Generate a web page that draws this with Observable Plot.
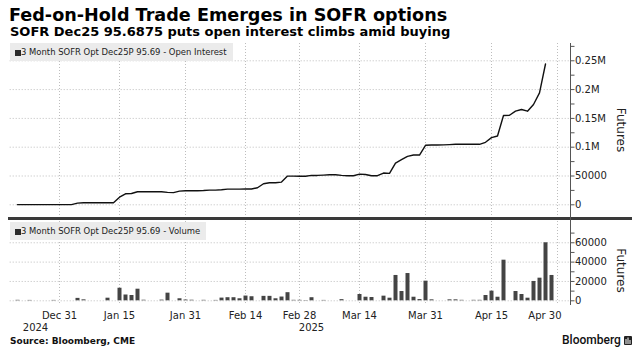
<!DOCTYPE html>
<html>
<head>
<meta charset="utf-8">
<script src="https://cdn.jsdelivr.net/npm/d3@7"></script>
<script src="https://cdn.jsdelivr.net/npm/@observablehq/plot@0.6"></script>
<style>
  body { margin: 0; background: #fff; }
  #wrap { position: relative; width: 644px; height: 353px; overflow: hidden; font-family: "DejaVu Sans", sans-serif; color: #000; background: #fff; }
  .abs { position: absolute; white-space: nowrap; }
  #title { left: 9px; top: 7px; font-weight: bold; font-size: 17.6px; line-height: 1; }
  #subtitle { left: 10px; top: 25px; font-weight: bold; font-size: 13px; line-height: 1; }
  .legend { background: #ebebeb; height: 18px; line-height: 18px; font-family: "DejaVu Sans Condensed", "DejaVu Sans", sans-serif; font-stretch: condensed; font-size: 9.4px; color: #222; padding-left: 11px; padding-right: 6px; }
  .legend::before { content: ""; position: absolute; left: 5px; top: 7px; width: 6px; height: 6px; background: #2a2a2a; }
  #source { left: 10px; top: 337px; font-weight: bold; font-size: 9px; line-height: 1; color: #111; }
  #logo { left: 562px; top: 334px; font-family: Roboto, "Liberation Sans", sans-serif; font-weight: 500; font-size: 12px; line-height: 1; color: #111; }
</style>
</head>
<body>
<div id="wrap">
  <div id="title" class="abs">Fed-on-Hold Trade Emerges in SOFR options</div>
  <div id="subtitle" class="abs">SOFR Dec25 95.6875 puts open interest climbs amid buying</div>
  <div id="top" class="abs" style="left:0;top:43px"></div>
  <div id="bot" class="abs" style="left:0;top:221px"></div>
  <div class="abs" style="left:8px;top:217px;width:624px;height:2.5px;background:#3a3a3a"></div>
  <div class="abs" style="left:569.5px;top:43px;width:1px;height:262px;background:#555"></div>
  <div class="abs legend" style="left:10px;top:43px">3 Month SOFR Opt Dec25P 95.69 - Open Interest</div>
  <div class="abs legend" style="left:10px;top:222px">3 Month SOFR Opt Dec25P 95.69 - Volume</div>
  <div id="source" class="abs">Source: Bloomberg, CME</div>
  <div id="logo" class="abs">Bloomberg <svg width="8" height="9" style="vertical-align:-1px"><rect x="0" y="0" width="8" height="9" rx="1" fill="#222"/><rect x="1.5" y="3" width="1" height="5" fill="#fff"/><rect x="3.5" y="1.5" width="1" height="6.5" fill="#fff"/><rect x="5.5" y="4" width="1" height="4" fill="#fff"/></svg></div>
</div>
<script>
// Trading-day categories (x axis slots)
const dates = [
  "2024-12-19","2024-12-20","2024-12-23","2024-12-24","2024-12-26","2024-12-27","2024-12-30","2024-12-31",
  "2025-01-02","2025-01-03","2025-01-06","2025-01-07","2025-01-08","2025-01-09","2025-01-10",
  "2025-01-13","2025-01-14","2025-01-15","2025-01-16","2025-01-17",
  "2025-01-21","2025-01-22","2025-01-23","2025-01-24",
  "2025-01-27","2025-01-28","2025-01-29","2025-01-30","2025-01-31",
  "2025-02-03","2025-02-04","2025-02-05","2025-02-06","2025-02-07",
  "2025-02-10","2025-02-11","2025-02-12","2025-02-13","2025-02-14",
  "2025-02-18","2025-02-19","2025-02-20","2025-02-21",
  "2025-02-24","2025-02-25","2025-02-26","2025-02-27","2025-02-28",
  "2025-03-03","2025-03-04","2025-03-05","2025-03-06","2025-03-07",
  "2025-03-10","2025-03-11","2025-03-12","2025-03-13","2025-03-14",
  "2025-03-17","2025-03-18","2025-03-19","2025-03-20","2025-03-21",
  "2025-03-24","2025-03-25","2025-03-26","2025-03-27","2025-03-28",
  "2025-03-31","2025-04-01","2025-04-02","2025-04-03","2025-04-04",
  "2025-04-07","2025-04-08","2025-04-09","2025-04-10","2025-04-11",
  "2025-04-14","2025-04-15","2025-04-16","2025-04-17","2025-04-18",
  "2025-04-21","2025-04-22","2025-04-23","2025-04-24","2025-04-25",
  "2025-04-28","2025-04-29","2025-04-30","2025-05-01"
];

// Open interest (contracts), one per trading day starting 2024-12-19
const openInterest = [
  300,300,300,300,300,300,300,300,300,300,
  3000,3500,3500,3500,3500,3500,3500,13200,19100,19600,
  22600,22600,22600,22600,22600,21500,21200,23800,24400,24400,
  24500,24800,25500,25500,26100,27200,27200,27200,27500,27500,
  29600,36600,38300,38300,39400,49800,49800,49600,49600,51000,
  51000,51500,52200,52200,51000,50500,50500,53300,52500,50500,
  50500,55100,54500,72500,78400,84100,86400,86400,103300,103800,
  103800,104000,104500,105000,105000,105000,105000,105000,108500,116700,
  119500,155000,155500,162500,165400,162500,174200,194400,244400
];

// Daily volume (contracts), one per trading day starting 2024-12-19
const volume = [
  500,0,400,0,0,0,400,0,0,0,
  2500,1000,0,0,0,2700,0,13000,6000,5500,
  12000,600,0,0,700,7900,0,2100,800,600,
  0,500,0,400,2800,3200,3200,2100,4900,4200,
  0,4600,4600,2100,3900,8400,500,500,300,3200,
  0,400,0,0,1200,0,0,6500,3700,3400,
  0,4800,2700,26200,9600,28200,3700,1300,20300,1000,
  0,0,1000,1000,500,0,500,500,5500,10000,
  3700,42000,0,9600,6500,2700,20000,23400,60000,26200
];

// Axis ticks and labels
const xTickDates = ["2024-12-31","2025-01-15","2025-01-31","2025-02-14","2025-02-28","2025-03-14","2025-03-31","2025-04-15","2025-04-30"];
const xTickLabels = ["Dec 31","Jan 15","Jan 31","Feb 14","Feb 28","Mar 14","Mar 31","Apr 15","Apr 30"];
const yearTickDates = ["2024-12-24","2025-03-04"];
const yearTickLabels = ["2024","2025"];
const oiTicks = [0, 50000, 100000, 150000, 200000, 250000];
const oiTickLabels = ["0","50000","0.1M","0.15M","0.2M","0.25M"];
const oiMinorTicks = [25000, 75000, 125000, 175000, 225000, 275000];
const volTicks = [0, 20000, 40000, 60000];
const volTickLabels = ["0","20000","40000","60000"];
const volMinorTicks = [10000, 30000, 50000, 70000];
const axisTitle = "Futures";

const oiRows = openInterest.map((v, i) => ({date: dates[i], oi: v}));
const volRows = volume.map((v, i) => ({date: dates[i], vol: v}));
const xLabel = new Map(xTickDates.map((d, i) => [d, xTickLabels[i]]));
const yearLabel = new Map(yearTickDates.map((d, i) => [d, yearTickLabels[i]]));
const oiLabel = new Map(oiTicks.map((d, i) => [d, oiTickLabels[i]]));
const volLabel = new Map(volTicks.map((d, i) => [d, volTickLabels[i]]));

const gridStyle = {stroke: "#bdbdbd", strokeDasharray: "1,2", strokeWidth: 1};
const style = {fontFamily: "DejaVu Sans, sans-serif", fontSize: "10px", color: "#222", background: "transparent", overflow: "visible"};
const xScale = {type: "point", domain: dates, padding: 0.5, axis: null};

const topChart = Plot.plot({
  width: 644, height: 173,
  marginLeft: 9.7, marginRight: 74, marginTop: 0, marginBottom: 0,
  style,
  x: xScale,
  y: {domain: [-20300, 280000], axis: null},
  marks: [
    Plot.ruleY(oiTicks, gridStyle),
    Plot.ruleX(xTickDates, gridStyle),
    Plot.axisY({anchor: "right", label: null, ticks: oiMinorTicks, tickFormat: () => "", tickSize: 3.5, stroke: "#555"}),
    Plot.axisY({anchor: "right", label: null, ticks: oiTicks, tickFormat: d => oiLabel.get(d), tickSize: 3.5, tickPadding: 1, stroke: "#555", fontSize: 10}),
    Plot.lineY(oiRows, {x: "date", y: "oi", stroke: "#111", strokeWidth: 1.4}),
    Plot.text([axisTitle], {frameAnchor: "right", textAnchor: "middle", dx: 50, rotate: 90, fontSize: 12, fill: "#222"})
  ]
});
document.getElementById("top").appendChild(topChart);

const lastTick = xTickDates[xTickDates.length - 1];
const botChart = Plot.plot({
  width: 644, height: 124,
  marginLeft: 9.7, marginRight: 74, marginTop: 0, marginBottom: 40,
  style,
  x: xScale,
  y: {domain: [-4860, 82000], axis: null},
  marks: [
    Plot.ruleY(volTicks, gridStyle),
    Plot.ruleX(xTickDates, gridStyle),
    Plot.ruleX(volRows, {x: "date", y1: 0, y2: "vol", stroke: "#444", strokeWidth: 4}),
    Plot.axisY({anchor: "right", label: null, ticks: volMinorTicks, tickFormat: () => "", tickSize: 3.5, stroke: "#555"}),
    Plot.axisY({anchor: "right", label: null, ticks: volTicks, tickFormat: d => volLabel.get(d), tickSize: 3.5, tickPadding: 1, stroke: "#555", fontSize: 10}),
    Plot.axisX({anchor: "bottom", label: null, ticks: xTickDates.slice(0, -1), tickFormat: d => xLabel.get(d), tickSize: 0, tickPadding: 6, fontSize: 10}),
    Plot.axisX({anchor: "bottom", label: null, ticks: [lastTick], tickFormat: d => xLabel.get(d), tickSize: 0, tickPadding: 6, textAnchor: "end", dx: 4, fontSize: 10}),
    Plot.axisX({anchor: "bottom", label: null, ticks: yearTickDates, tickFormat: d => yearLabel.get(d), tickSize: 0, tickPadding: 18, fontSize: 10}),
    Plot.text([axisTitle], {frameAnchor: "right", textAnchor: "middle", dx: 50, dy: 7, rotate: 90, fontSize: 12, fill: "#222"})
  ]
});
document.getElementById("bot").appendChild(botChart);
</script>
</body>
</html>
